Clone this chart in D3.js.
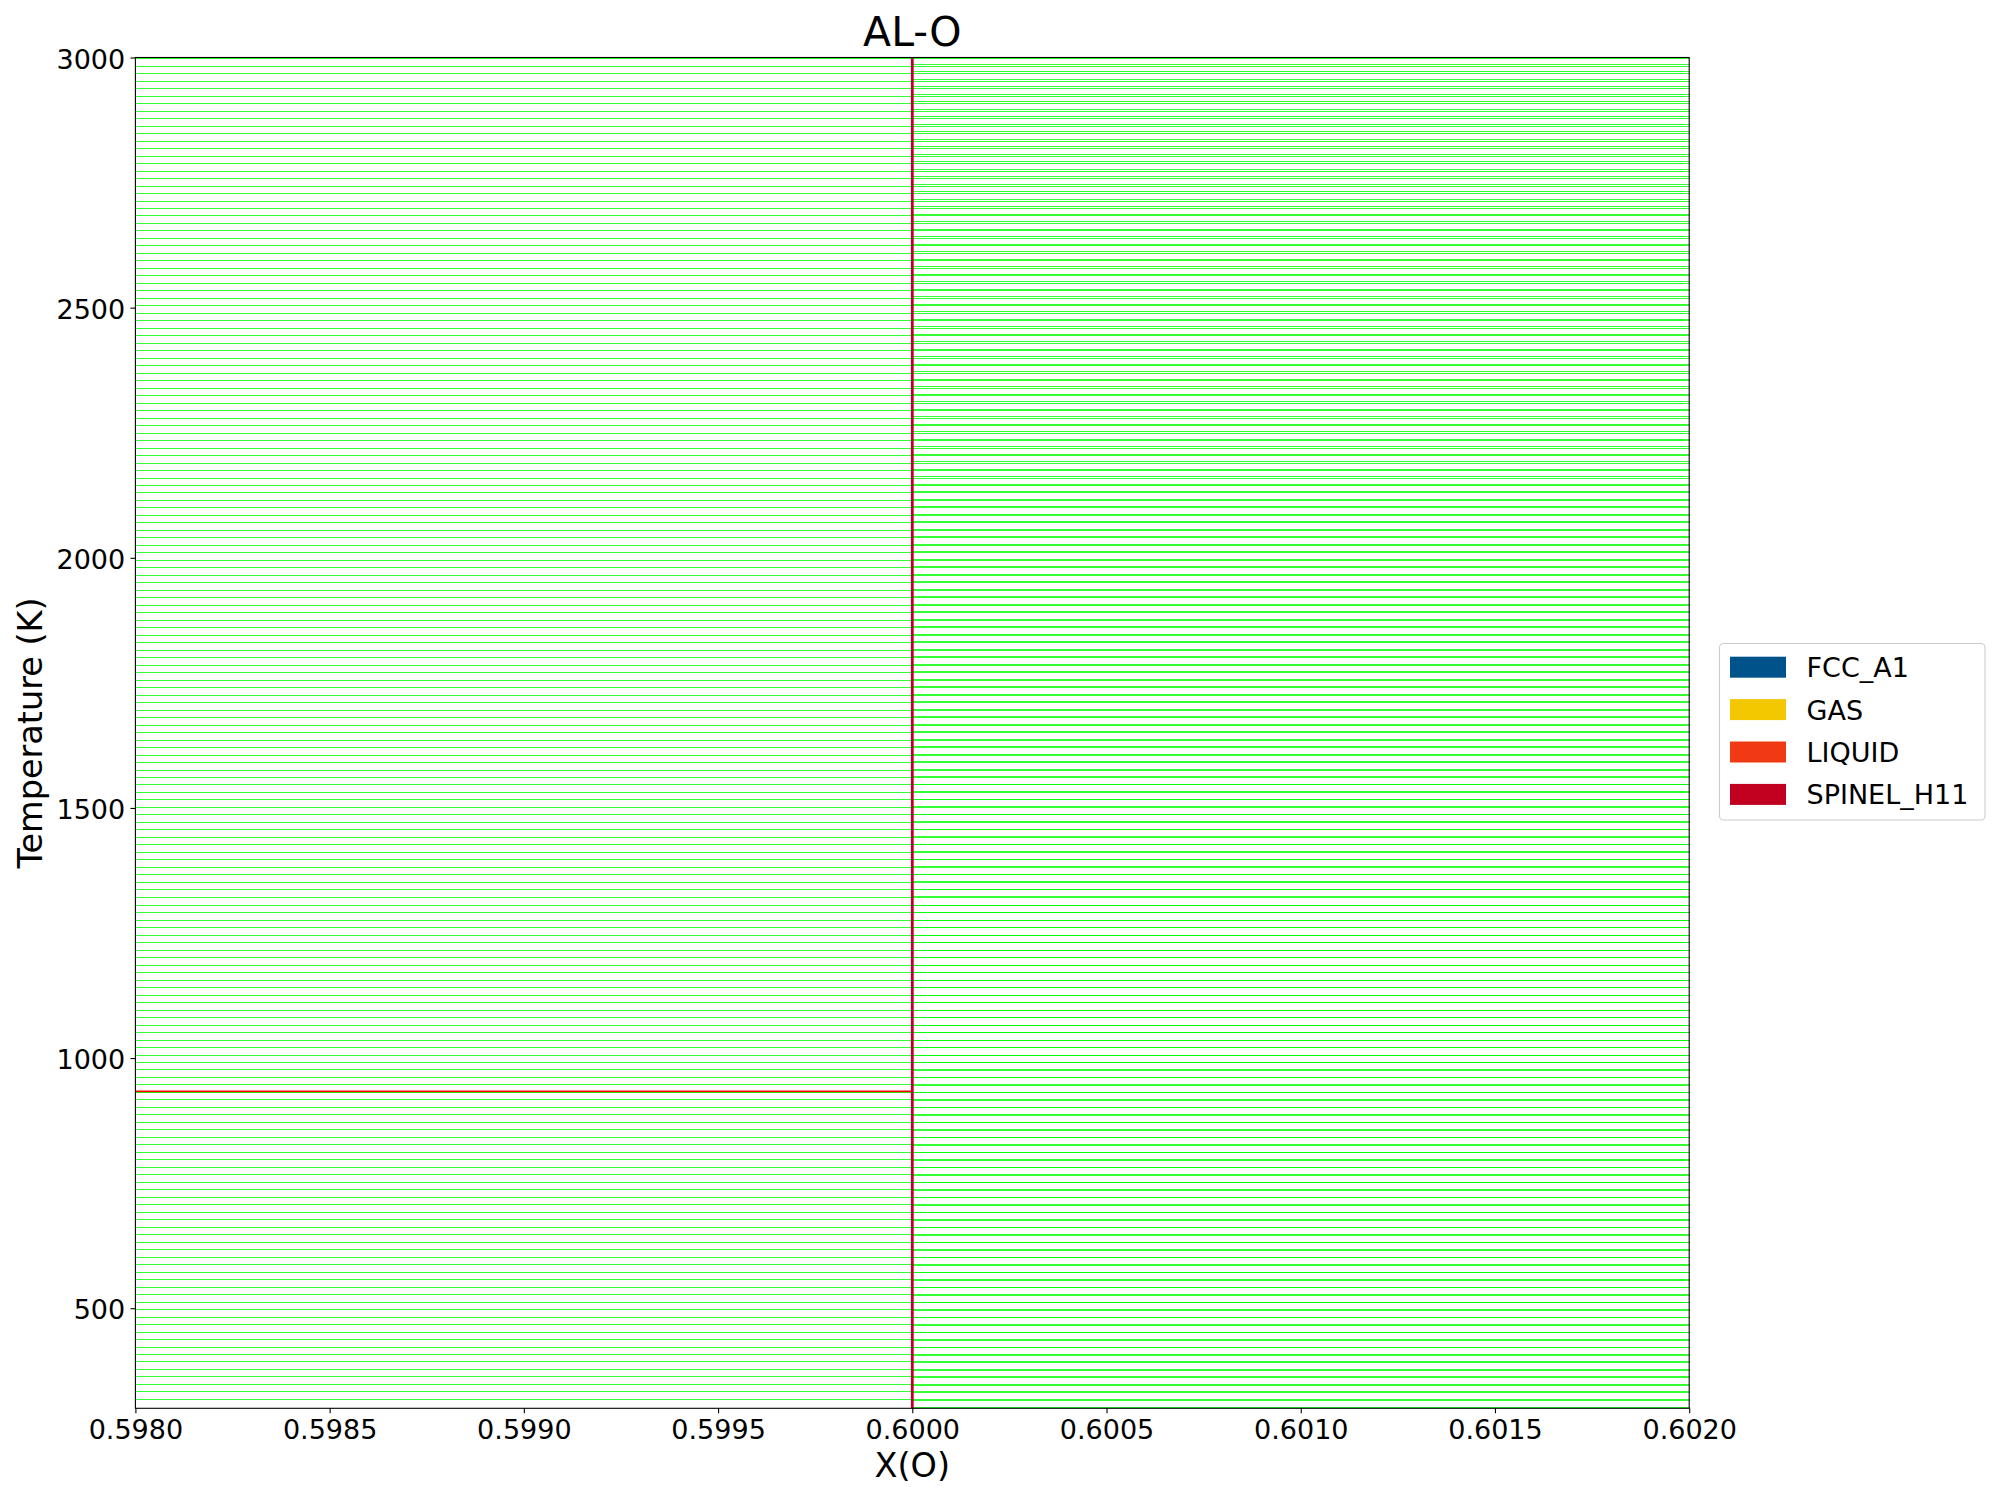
<!DOCTYPE html>
<html>
<head>
<meta charset="utf-8">
<script src="https://cdn.jsdelivr.net/npm/d3@7"></script>
<style>
html, body { margin: 0; padding: 0; background: #ffffff; }
svg { display: block; }
text { font-family: "DejaVu Sans", "Liberation Sans", sans-serif; fill: #000; }
</style>
</head>
<body>
<svg id="chart" width="2000" height="1500"></svg>
<script>
// ---------------- data ----------------
const chartTitle = "AL-O";
const xLabel = "X(O)";
const yLabel = "Temperature (K)";

const phases = ["FCC_A1", "GAS", "LIQUID", "SPINEL_H11"];
const phaseColors = ["#00538A", "#F4C800", "#F13A13", "#C10020"];

const xTicks = [0.5980, 0.5985, 0.5990, 0.5995, 0.6000, 0.6005, 0.6010, 0.6015, 0.6020];
const yTicks = [500, 1000, 1500, 2000, 2500, 3000];

// composition of the phases bounding the two-phase fields
const leftPhaseX = 0.0;      // Al-rich side (FCC_A1 / LIQUID)
const spinelX = 0.6;         // SPINEL_H11 (Al2O3)
const rightPhaseX = 1.0;     // GAS
const spinelT = [300, 3000];

// three-phase (FCC_A1 + LIQUID + SPINEL_H11) line
const invariantT = [933];

// tie-line temperatures (K) on both sides of the spinel line
const tieT = [
  2998, 2983, 2968, 2953, 2938, 2923, 2908, 2893, 2878, 2863, 2848, 2833, 2818, 2803, 2788, 2773, 2758, 2743, 2728, 2713,
  2699, 2684, 2669, 2654, 2639, 2624, 2609, 2594, 2579, 2564, 2549, 2534, 2519, 2504, 2489, 2474, 2459, 2444, 2429, 2414,
  2399, 2384, 2369, 2354, 2339, 2324, 2309, 2294, 2279, 2264, 2249, 2234, 2219, 2204, 2189, 2174, 2159, 2144,
  2130, 2115, 2100, 2085, 2070, 2055, 2040, 2025, 2010, 1995, 1980, 1965, 1950, 1935, 1920, 1905, 1890, 1875, 1860, 1845,
  1830, 1815, 1800, 1785, 1770, 1755, 1740, 1725, 1710, 1695, 1680, 1665, 1650, 1635, 1620, 1605, 1590, 1575, 1560,
  1546, 1531, 1516, 1501, 1486, 1471, 1456, 1441, 1426, 1411, 1396, 1381, 1366, 1351, 1336, 1321, 1306, 1291, 1276, 1261,
  1246, 1231, 1216, 1201, 1186, 1171, 1156, 1141, 1126, 1111, 1096, 1081, 1066, 1051, 1036, 1021, 1006, 991,
  977, 962, 947, 932, 917, 902, 887, 872, 857, 842, 827, 812, 797, 782, 767, 752, 737, 722, 707, 692,
  677, 662, 647, 632, 617, 602, 587, 572, 557, 542, 527, 512, 497, 482, 467, 452, 437, 422, 407,
  393, 378, 363, 348, 333, 318
];

// additional SPINEL_H11 + GAS tie-lines (two interleaved sets)
const tieGasT_A = [
  2986, 2956, 2926, 2896, 2866, 2836, 2806, 2776, 2746, 2716, 2686, 2656, 2626, 2596, 2566, 2536, 2506, 2476, 2446, 2416,
  2386, 2356, 2326, 2296, 2266, 2236, 2206, 2176, 2146, 2116, 2086, 2056, 2026, 1996, 1966, 1936, 1906, 1876, 1846, 1816,
  1786, 1756, 1726, 1696, 1666, 1636, 1606, 1576, 1546, 1516, 1486, 1456, 1426, 1396, 1366, 1336, 1306, 1276, 1246, 1216,
  1186, 1156, 1126, 1096, 1066, 1036, 1006, 976, 946, 916, 886, 856, 826, 796, 766, 736, 706, 676, 646, 616,
  586, 556, 526, 496, 466, 436, 406, 376, 346, 316
];
const tieGasT_B = [
  2972, 2942, 2912, 2882, 2852, 2822, 2792, 2762, 2732, 2702, 2672, 2642, 2612, 2582, 2552, 2522, 2492, 2462, 2432, 2402,
  2372, 2342, 2312, 2282, 2252, 2222, 2192, 2162, 2132, 2102, 2072, 2042, 2012, 1982, 1952, 1922, 1892, 1862, 1832, 1802,
  1772, 1742, 1712, 1682, 1652, 1622, 1592, 1562, 1532, 1502, 1472, 1442, 1412, 1382, 1352, 1322, 1292, 1262, 1232, 1202,
  1172, 1142, 1112, 1082, 1052, 1022, 992, 962, 932, 902, 872, 842, 812, 782, 752, 722, 692, 662, 632, 602,
  572, 542, 512, 482, 452, 422, 392, 362, 332, 302
];

// ---------------- layout ----------------
const plot = { left: 135.4, right: 1689.2, top: 57.5, bottom: 1408.3 };

const svg = d3.select("#chart");

const x = d3.scaleLinear().domain([0.598, 0.602]).range([plot.left, plot.right]).clamp(true);
const y = d3.scaleLinear().domain([300, 3000]).range([plot.bottom, plot.top]);

svg.append("rect").attr("width", 2000).attr("height", 1500).attr("fill", "#ffffff");

svg.append("defs").append("clipPath").attr("id", "plotClip")
  .append("rect")
  .attr("x", plot.left).attr("y", plot.top)
  .attr("width", plot.right - plot.left).attr("height", plot.bottom - plot.top);

const area = svg.append("g").attr("clip-path", "url(#plotClip)");
const crisp = v => Math.floor(v) + 0.5;

// three-phase line (red)
area.append("g").selectAll("line").data(invariantT).join("line")
  .attr("x1", x(leftPhaseX)).attr("x2", x(spinelX))
  .attr("y1", d => y(d)).attr("y2", d => y(d))
  .attr("stroke", "#ff0000").attr("stroke-width", 2.4);

// tie-lines
const tieColor = "#00ff00";
const tieOpacity = 0.8;
const tieGroup = area.append("g").attr("stroke", tieColor).attr("stroke-opacity", tieOpacity).attr("stroke-width", 1.2);

tieGroup.append("g").selectAll("line").data(tieT).join("line")
  .attr("x1", x(leftPhaseX)).attr("x2", x(spinelX))
  .attr("y1", d => crisp(y(d))).attr("y2", d => crisp(y(d)));

tieGroup.append("g").selectAll("line").data(tieT).join("line")
  .attr("x1", x(spinelX)).attr("x2", x(rightPhaseX))
  .attr("y1", d => crisp(y(d))).attr("y2", d => crisp(y(d)));

tieGroup.append("g").selectAll("line").data(tieGasT_A.concat(tieGasT_B)).join("line")
  .attr("x1", x(spinelX)).attr("x2", x(rightPhaseX))
  .attr("y1", d => crisp(y(d))).attr("y2", d => crisp(y(d)));

// SPINEL_H11 boundary
area.append("line")
  .attr("x1", x(spinelX)).attr("x2", x(spinelX))
  .attr("y1", y(spinelT[0])).attr("y2", y(spinelT[1]))
  .attr("stroke", phaseColors[phases.indexOf("SPINEL_H11")])
  .attr("stroke-opacity", 1)
  .attr("stroke-width", 2.8);

// ---------------- axes ----------------
const xAxis = d3.axisBottom(x).tickValues(xTicks).tickFormat(d3.format(".4f")).tickSizeOuter(0).tickSize(4.9).tickPadding(5);
const yAxis = d3.axisLeft(y).tickValues(yTicks).tickFormat(d3.format("d")).tickSizeOuter(0).tickSize(4.9).tickPadding(5);

const gx = svg.append("g").attr("transform", `translate(0,${plot.bottom})`).call(xAxis);
gx.select(".domain").remove();
gx.selectAll(".tick line").attr("stroke", "#000").attr("stroke-width", 1.1);
gx.selectAll(".tick text")
  .attr("font-size", 27).attr("font-family", "DejaVu Sans")
  .attr("dy", null).attr("y", 30.7);

const gy = svg.append("g").attr("transform", `translate(${plot.left},0)`).call(yAxis);
gy.select(".domain").remove();
gy.selectAll(".tick line").attr("stroke", "#000").attr("stroke-width", 1.1);
gy.selectAll(".tick text")
  .attr("font-size", 27).attr("font-family", "DejaVu Sans")
  .attr("dy", null).attr("x", -10.2).attr("y", 10.6);

// frame
svg.append("rect")
  .attr("x", plot.left).attr("y", plot.top)
  .attr("width", plot.right - plot.left).attr("height", plot.bottom - plot.top)
  .attr("fill", "none").attr("stroke", "#000").attr("stroke-width", 1.1);

// title & labels
svg.append("text").attr("x", (plot.left + plot.right) / 2).attr("y", 46)
  .attr("text-anchor", "middle").attr("font-size", 41).text(chartTitle);

svg.append("text").attr("x", (plot.left + plot.right) / 2).attr("y", 1477)
  .attr("text-anchor", "middle").attr("font-size", 33.5).text(xLabel);

svg.append("text")
  .attr("transform", `translate(42,${(plot.top + plot.bottom) / 2}) rotate(-90)`)
  .attr("text-anchor", "middle").attr("font-size", 33.5).text(yLabel);

// ---------------- legend ----------------
const legend = svg.append("g");
legend.append("rect")
  .attr("x", 1719.5).attr("y", 643.5).attr("width", 265.5).attr("height", 176.5)
  .attr("rx", 4).attr("ry", 4)
  .attr("fill", "#ffffff").attr("fill-opacity", 0.8)
  .attr("stroke", "#cccccc").attr("stroke-width", 1.1);

const ly = d3.scalePoint().domain(phases).range([667.2, 794.4]);

const items = legend.selectAll("g.item").data(phases).join("g").attr("class", "item");
items.append("rect")
  .attr("x", 1730).attr("y", d => ly(d) - 10.5)
  .attr("width", 56).attr("height", 21)
  .attr("fill", (d, i) => phaseColors[i]);
items.append("text")
  .attr("x", 1806.5).attr("y", d => ly(d) + 10)
  .attr("font-size", 27).text(d => d);
</script>
</body>
</html>
